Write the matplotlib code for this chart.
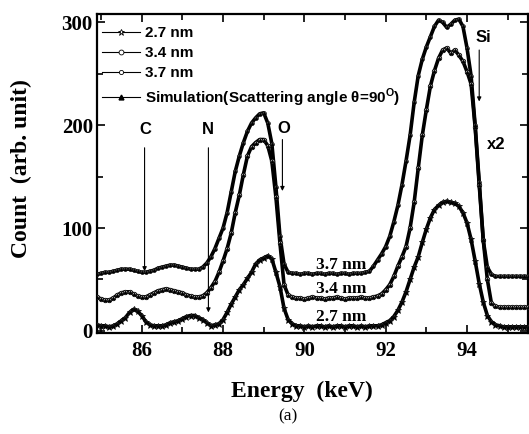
import numpy as np
import matplotlib
matplotlib.use("Agg")
import matplotlib.pyplot as plt
from matplotlib.lines import Line2D

# ---------------- data ----------------
energy = np.round(np.arange(84.9, 95.55, 0.1), 1)

count_37 = [55, 56, 57, 57, 58, 59, 60, 60, 60, 59, 58, 57, 57, 58, 59, 61, 62, 63, 64, 64,
            63, 62, 61, 60, 60, 60, 62, 66, 72, 80, 90, 100, 115, 135, 155, 170, 183, 194, 202, 207,
            211, 212,
            202, 182, 140, 92, 65, 57, 56, 56, 55, 56, 56, 55, 56, 56, 55, 56, 56, 55, 56, 56, 55, 56,
            56, 56, 57,
            58, 63, 69, 75, 82, 92, 106, 122, 142, 165, 190, 222, 248, 264, 276, 286, 296, 302, 300,
            295, 298, 302, 303, 296, 275, 248, 200, 145, 88, 62, 55, 53,
            53, 53, 53, 53, 53, 53, 53, 53]

count_34 = [33, 31, 30, 30, 32, 35, 37, 38, 38, 36, 34, 33, 33, 35, 37, 39, 40, 41, 40, 39,
            38, 37, 35, 34, 33, 33, 34, 37, 42, 48, 57, 68, 80, 95, 115, 132, 152, 170, 179, 183,
            186, 186, 180, 165, 130, 85, 45, 35, 33,
            32, 32, 31, 32, 33, 32, 32, 31, 32, 32, 33, 32, 31, 32, 32, 32, 33, 32, 32,
            33, 34, 36, 40, 45, 53, 63, 72, 82, 100, 125, 158, 190, 215, 238, 253, 265, 273, 275,
            270, 273, 268, 262, 252, 240, 198, 142, 88, 50, 27, 24,
            23, 23, 23, 23, 23, 23, 23, 23]

count_27 = [6, 5, 5, 4, 5, 7, 10, 13, 18, 21, 19, 15, 9, 6, 5, 5, 5, 6, 8, 9,
            10, 12, 14, 15, 15, 13, 11, 8, 5, 6, 7, 11, 18, 26, 33, 40, 45, 51, 57, 65,
            69, 71, 73, 70, 57, 43, 22, 11, 7, 5,
            5, 4, 5, 4, 5, 5, 4, 5, 4, 5, 5, 4, 5, 5, 4, 5, 4, 5, 5, 5,
            6, 8, 10, 14, 20, 28, 38, 50, 62, 72, 86, 99, 110, 118, 122, 125, 126, 125, 124, 121,
            115, 105, 89, 68, 46, 28, 15, 9, 6, 5,
            4, 4, 4, 4, 4, 4, 4]

series = [("2.7 nm", count_27, "*", 4.5),
          ("3.4 nm", count_34, "o", 3.2),
          ("3.7 nm", count_37, "o", 2.6)]

x_ticks = [86, 88, 90, 92, 94]
y_ticks = [0, 100, 200, 300]

# ---------------- figure ----------------
fig = plt.figure(figsize=(5.29, 4.34), dpi=100)
ax = fig.add_axes([97 / 529, 1 - 333 / 434, 431 / 529, (333 - 14) / 434])

for name, vals, mk, ms in series:
    ax.plot(energy, vals, color="black", lw=2.6, zorder=3)
    ax.plot(energy, vals, ls="none", marker=mk, ms=ms, mfc="white", mec="black",
            mew=0.6, zorder=4)
    ax.plot(energy, vals, ls="none", marker="^", ms=1.6, color="black", zorder=5)

ax.set_xlim(84.9, 95.5)
ax.set_ylim(-2, 308)
ax.set_xticks(x_ticks)
ax.set_yticks(y_ticks)
ax.set_xticks([85, 87, 89, 91, 93, 95], minor=True)
ax.set_yticks([50, 150, 250], minor=True)
ax.tick_params(which="both", direction="in", top=True, right=True, width=1.2)
ax.tick_params(which="major", length=6)
ax.tick_params(which="minor", length=4)
for lab in ax.get_xticklabels() + ax.get_yticklabels():
    lab.set_fontfamily("Liberation Serif")
    lab.set_fontweight("bold")
    lab.set_fontsize(15)
ax.tick_params(axis="x", pad=6)
ax.tick_params(axis="y", pad=3)
for sp in ax.spines.values():
    sp.set_linewidth(1.6)

# axis labels
fig.text(21 / 529, 1 - 169 / 434, "Count  (arb. unit)", rotation=90, ha="center",
         va="center", family="Liberation Serif", weight="bold", fontsize=17)
fig.text(302 / 529, 1 - 397 / 434, "Energy  (keV)", ha="center", va="baseline",
         family="Liberation Serif", weight="bold", fontsize=17)
fig.text(288 / 529, 1 - 416 / 434, "(a)", ha="center", va="center",
         family="Liberation Serif", fontsize=12.5)

# legend
handles = [
    Line2D([], [], color="black", lw=0.8, marker="*", ms=5, mfc="white", mew=0.6),
    Line2D([], [], color="black", lw=0.8, marker="o", ms=3.5, mfc="white", mew=0.6),
    Line2D([], [], color="black", lw=0.8, marker="o", ms=3, mfc="white", mew=0.6),
    Line2D([], [], color="black", lw=0.8, marker="^", ms=3.5, mfc="black"),
]
labels = ["2.7 nm", "3.4 nm", "3.7 nm",
          "Simulation(Scattering angle \u03b8=90$^\\mathregular{O}$)"]
leg = ax.legend(handles, labels, loc="upper left", frameon=False,
                bbox_to_anchor=(5 / 431, 1 - 12 / 319),
                prop={"family": "Liberation Sans", "weight": "bold", "size": 11},
                handlelength=2.5, handletextpad=0.33, labelspacing=0.4,
                borderaxespad=0.0, borderpad=0.0)
leg.set_zorder(6)

# element markers
def mark(label, xl, yl, x, y0, y1):
    ax.text(xl, yl, label, ha="center", va="center", family="Liberation Sans",
            weight="bold", fontsize=12)
    ax.annotate("", xy=(x, y1), xytext=(x, y0),
                arrowprops=dict(arrowstyle="-|>", lw=0.8, color="black",
                                mutation_scale=6, shrinkA=0, shrinkB=0))

mark("C", 86.1, 196, 86.07, 178, 58)
mark("N", 87.62, 196, 87.64, 178, 18)
mark("O", 89.5, 197, 89.46, 186, 136)
mark("Si", 94.4, 285, 94.3, 273, 223)
ax.text(94.72, 181, "x2", ha="center", va="center", family="Liberation Sans",
        weight="bold", fontsize=12)

for lab, yb in [("3.7 nm", 60), ("3.4 nm", 37), ("2.7 nm", 10)]:
    ax.text(90.9, yb, lab, ha="center", va="baseline", family="Liberation Serif",
            weight="bold", fontsize=12.5, zorder=7)

fig.savefig("out.png", dpi=100)
